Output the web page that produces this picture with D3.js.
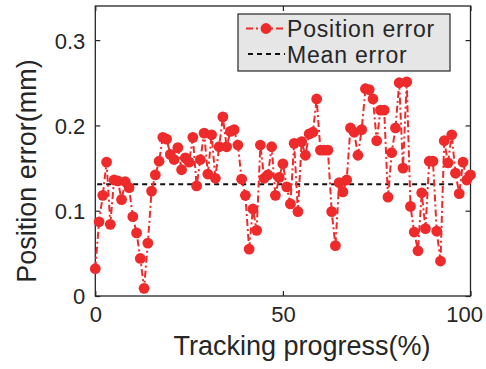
<!DOCTYPE html>
<html><head><meta charset="utf-8">
<script src="https://cdn.jsdelivr.net/npm/d3@7"></script>
<style>body{margin:0;background:#fff}svg{display:block}text{font-family:"Liberation Sans",Arial,sans-serif;fill:#262626}</style>
</head><body><svg id="c" width="486" height="369"></svg>
<script>
const positionError = [0.032,0.087,0.118,0.157,0.084,0.136,0.135,0.113,0.134,0.127,
0.093,0.074,0.044,0.009,0.062,0.123,0.142,0.158,0.186,0.184,
0.166,0.160,0.174,0.148,0.162,0.157,0.186,0.129,0.160,0.191,
0.143,0.189,0.138,0.175,0.210,0.175,0.193,0.195,0.177,0.137,
0.118,0.055,0.102,0.077,0.177,0.138,0.142,0.175,0.118,0.139,
0.155,0.128,0.108,0.179,0.099,0.181,0.165,0.190,0.192,0.231,
0.171,0.171,0.171,0.099,0.059,0.133,0.122,0.136,0.197,0.192,
0.165,0.195,0.243,0.242,0.231,0.182,0.218,0.218,0.116,0.168,
0.197,0.250,0.150,0.251,0.105,0.075,0.053,0.121,0.079,0.158,
0.158,0.076,0.041,0.182,0.156,0.189,0.144,0.120,0.157,0.136,0.142];
const progress = positionError.map((d,i)=>i);
const meanError = 0.131;
const meanRange = [0.5, 96.7];
const xTicks = [0,50,100];
const yTicks = [0,0.1,0.2,0.3];
const legendLabels = ["Position error","Mean error"];

const svg = d3.select("#c");
const L=95.3, R=470.5, T=6, B=296;
const x = d3.scaleLinear().domain([0,100]).range([L,R]);
const y = d3.scaleLinear().domain([0,0.34]).range([B,T]);
const red = "#ee2a2b", ink="#262626";

svg.append("rect").attr("x",L).attr("y",T).attr("width",R-L).attr("height",B-T)
  .attr("fill","none").attr("stroke",ink).attr("stroke-width",1.3);
const tl=5;
const gx=svg.append("g").attr("transform",`translate(0,${B})`)
  .call(d3.axisBottom(x).tickValues(xTicks).tickSize(-tl).tickPadding(9).tickFormat(d3.format("d")));
const gx2=svg.append("g").attr("transform",`translate(0,${T})`)
  .call(d3.axisTop(x).tickValues(xTicks).tickSize(-tl).tickFormat(""));
const gy=svg.append("g").attr("transform",`translate(${L},0)`)
  .call(d3.axisLeft(y).tickValues(yTicks).tickSize(-tl).tickPadding(10).tickFormat(d=>d===0?"0":d3.format(".1f")(d)));
const gy2=svg.append("g").attr("transform",`translate(${R},0)`)
  .call(d3.axisRight(y).tickValues(yTicks).tickSize(-tl).tickFormat(""));
[gx,gx2,gy,gy2].forEach(g=>{
  g.select(".domain").remove();
  g.selectAll(".tick line").attr("stroke",ink).attr("stroke-width",1.2);
  g.selectAll("text").attr("font-size",22).attr("fill",ink).style("font-family","Liberation Sans, Arial, sans-serif");
});
gx.selectAll("text").attr("dy","0.75em");
gx.selectAll(".tick text").filter(d=>d===100).attr("text-anchor","end").attr("x",12);
gy.selectAll("text").attr("dy","0.36em");

svg.append("line").attr("x1",x(meanRange[0])).attr("x2",x(meanRange[1]))
  .attr("y1",y(meanError)).attr("y2",y(meanError))
  .attr("stroke","#111").attr("stroke-width",2).attr("stroke-dasharray","5,4");

const line=d3.line().x((d,i)=>x(progress[i])).y(d=>y(d));
svg.append("path").datum(positionError).attr("d",line).attr("fill","none")
  .attr("stroke",red).attr("stroke-width",2).attr("stroke-dasharray","7,3,2,3");
svg.append("g").selectAll("circle").data(positionError).join("circle")
  .attr("cx",(d,i)=>x(progress[i])).attr("cy",d=>y(d)).attr("r",5.4).attr("fill",red);

const lg=svg.append("g");
lg.append("rect").attr("x",238).attr("y",14).attr("width",212).attr("height",57)
  .attr("fill","#e6e6e6").attr("stroke",ink).attr("stroke-width",1.2);
lg.append("line").attr("x1",246).attr("x2",285).attr("y1",28.5).attr("y2",28.5)
  .attr("stroke",red).attr("stroke-width",2).attr("stroke-dasharray","7,3,2,3");
lg.append("circle").attr("cx",266).attr("cy",28.5).attr("r",5.4).attr("fill",red);
lg.append("line").attr("x1",248).attr("x2",285).attr("y1",54).attr("y2",54)
  .attr("stroke","#111").attr("stroke-width",2).attr("stroke-dasharray","5,4");
lg.selectAll("text.l").data(legendLabels).join("text").attr("class","l")
  .attr("x",287).attr("y",(d,i)=>28.5+i*26).attr("dy","0.36em").attr("font-size",23)
  .attr("letter-spacing",0.8).text(d=>d);

svg.append("text").attr("x",302).attr("y",355).attr("text-anchor","middle").attr("font-size",27)
  .text("Tracking progress(%)");
svg.append("text").attr("transform","translate(36,171) rotate(-90)").attr("text-anchor","middle")
  .attr("font-size",27).text("Position error(mm)");
</script></body></html>
